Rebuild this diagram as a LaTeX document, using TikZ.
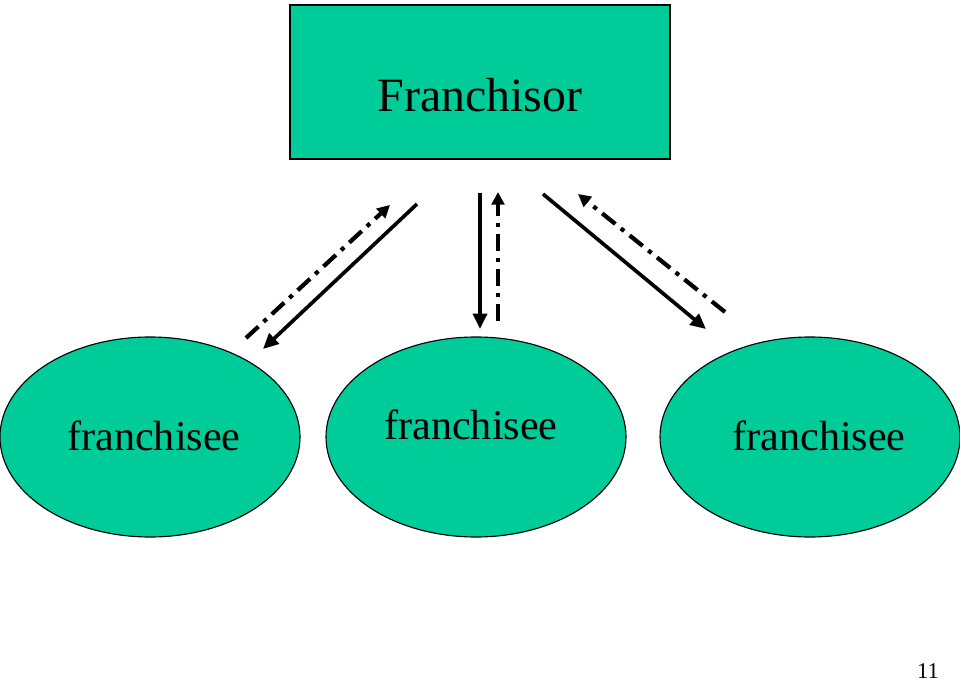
\documentclass[tikz,border=0pt]{standalone}
\usepackage{fontspec}
\setmainfont{Liberation Serif}
\usepackage{xcolor}
\usetikzlibrary{arrows.meta,shapes.geometric}
\definecolor{franchgreen}{RGB}{0,204,153}
\tikzset{
  party/.style={draw=black, line width=0.8pt, fill=franchgreen},
  flowline/.style={line width=2.6pt, -{Triangle[length=11pt,width=10pt]}},
  feedline/.style={line width=3pt, dash pattern=on 12pt off 5pt on 3pt off 5pt, -{Triangle[length=9pt,width=9pt]}}
}
\begin{document}
\begin{tikzpicture}[x=0.025cm, y=-0.025cm]
  \useasboundingbox (0,0) rectangle (960,682);
  % Franchisor
  \node[party, rectangle, minimum width=380*0.025cm, minimum height=154*0.025cm] (franchisor) at (480,82) {};
  \node[font=\fontsize{34}{40}\selectfont] (franchisortext) at (480,95) {Franchisor};
  % Franchisees
  \node[party, ellipse, minimum width=300*0.025cm, minimum height=200*0.025cm] (left) at (150,437) {};
  \node[party, ellipse, minimum width=300*0.025cm, minimum height=200*0.025cm] (mid) at (476,437) {};
  \node[party, ellipse, minimum width=300*0.025cm, minimum height=200*0.025cm] (right) at (810,437) {};
  \node[font=\fontsize{30}{36}\selectfont] (lefttext) at (154,436) {franchisee};
  \node[font=\fontsize{30}{36}\selectfont] (midtext) at (471,425) {franchisee};
  \node[font=\fontsize{30}{36}\selectfont] (righttext) at (819,436) {franchisee};
  % Arrow ends
  \coordinate (l1) at (417,204); \coordinate (l2) at (263,349);
  \coordinate (l3) at (246,338); \coordinate (l4) at (390,205);
  \coordinate (m1) at (480,193); \coordinate (m2) at (480,329);
  \coordinate (m3) at (498,321); \coordinate (m4) at (498,192);
  \coordinate (r1) at (543,194); \coordinate (r2) at (706,329);
  \coordinate (r3) at (725,312); \coordinate (r4) at (578,194);
  % Arrows
  \draw[flowline] (l1) -- (l2);
  \draw[feedline] (l3) -- (l4);
  \draw[flowline] (m1) -- (m2);
  \draw[feedline] (m3) -- (m4);
  \draw[flowline] (r1) -- (r2);
  \draw[feedline] (r3) -- (r4);
  % Page number
  \node[font=\fontsize{16}{18}\selectfont, inner sep=0pt, anchor=base] (pagenum) at (928,678) {11};
\end{tikzpicture}
\end{document}
